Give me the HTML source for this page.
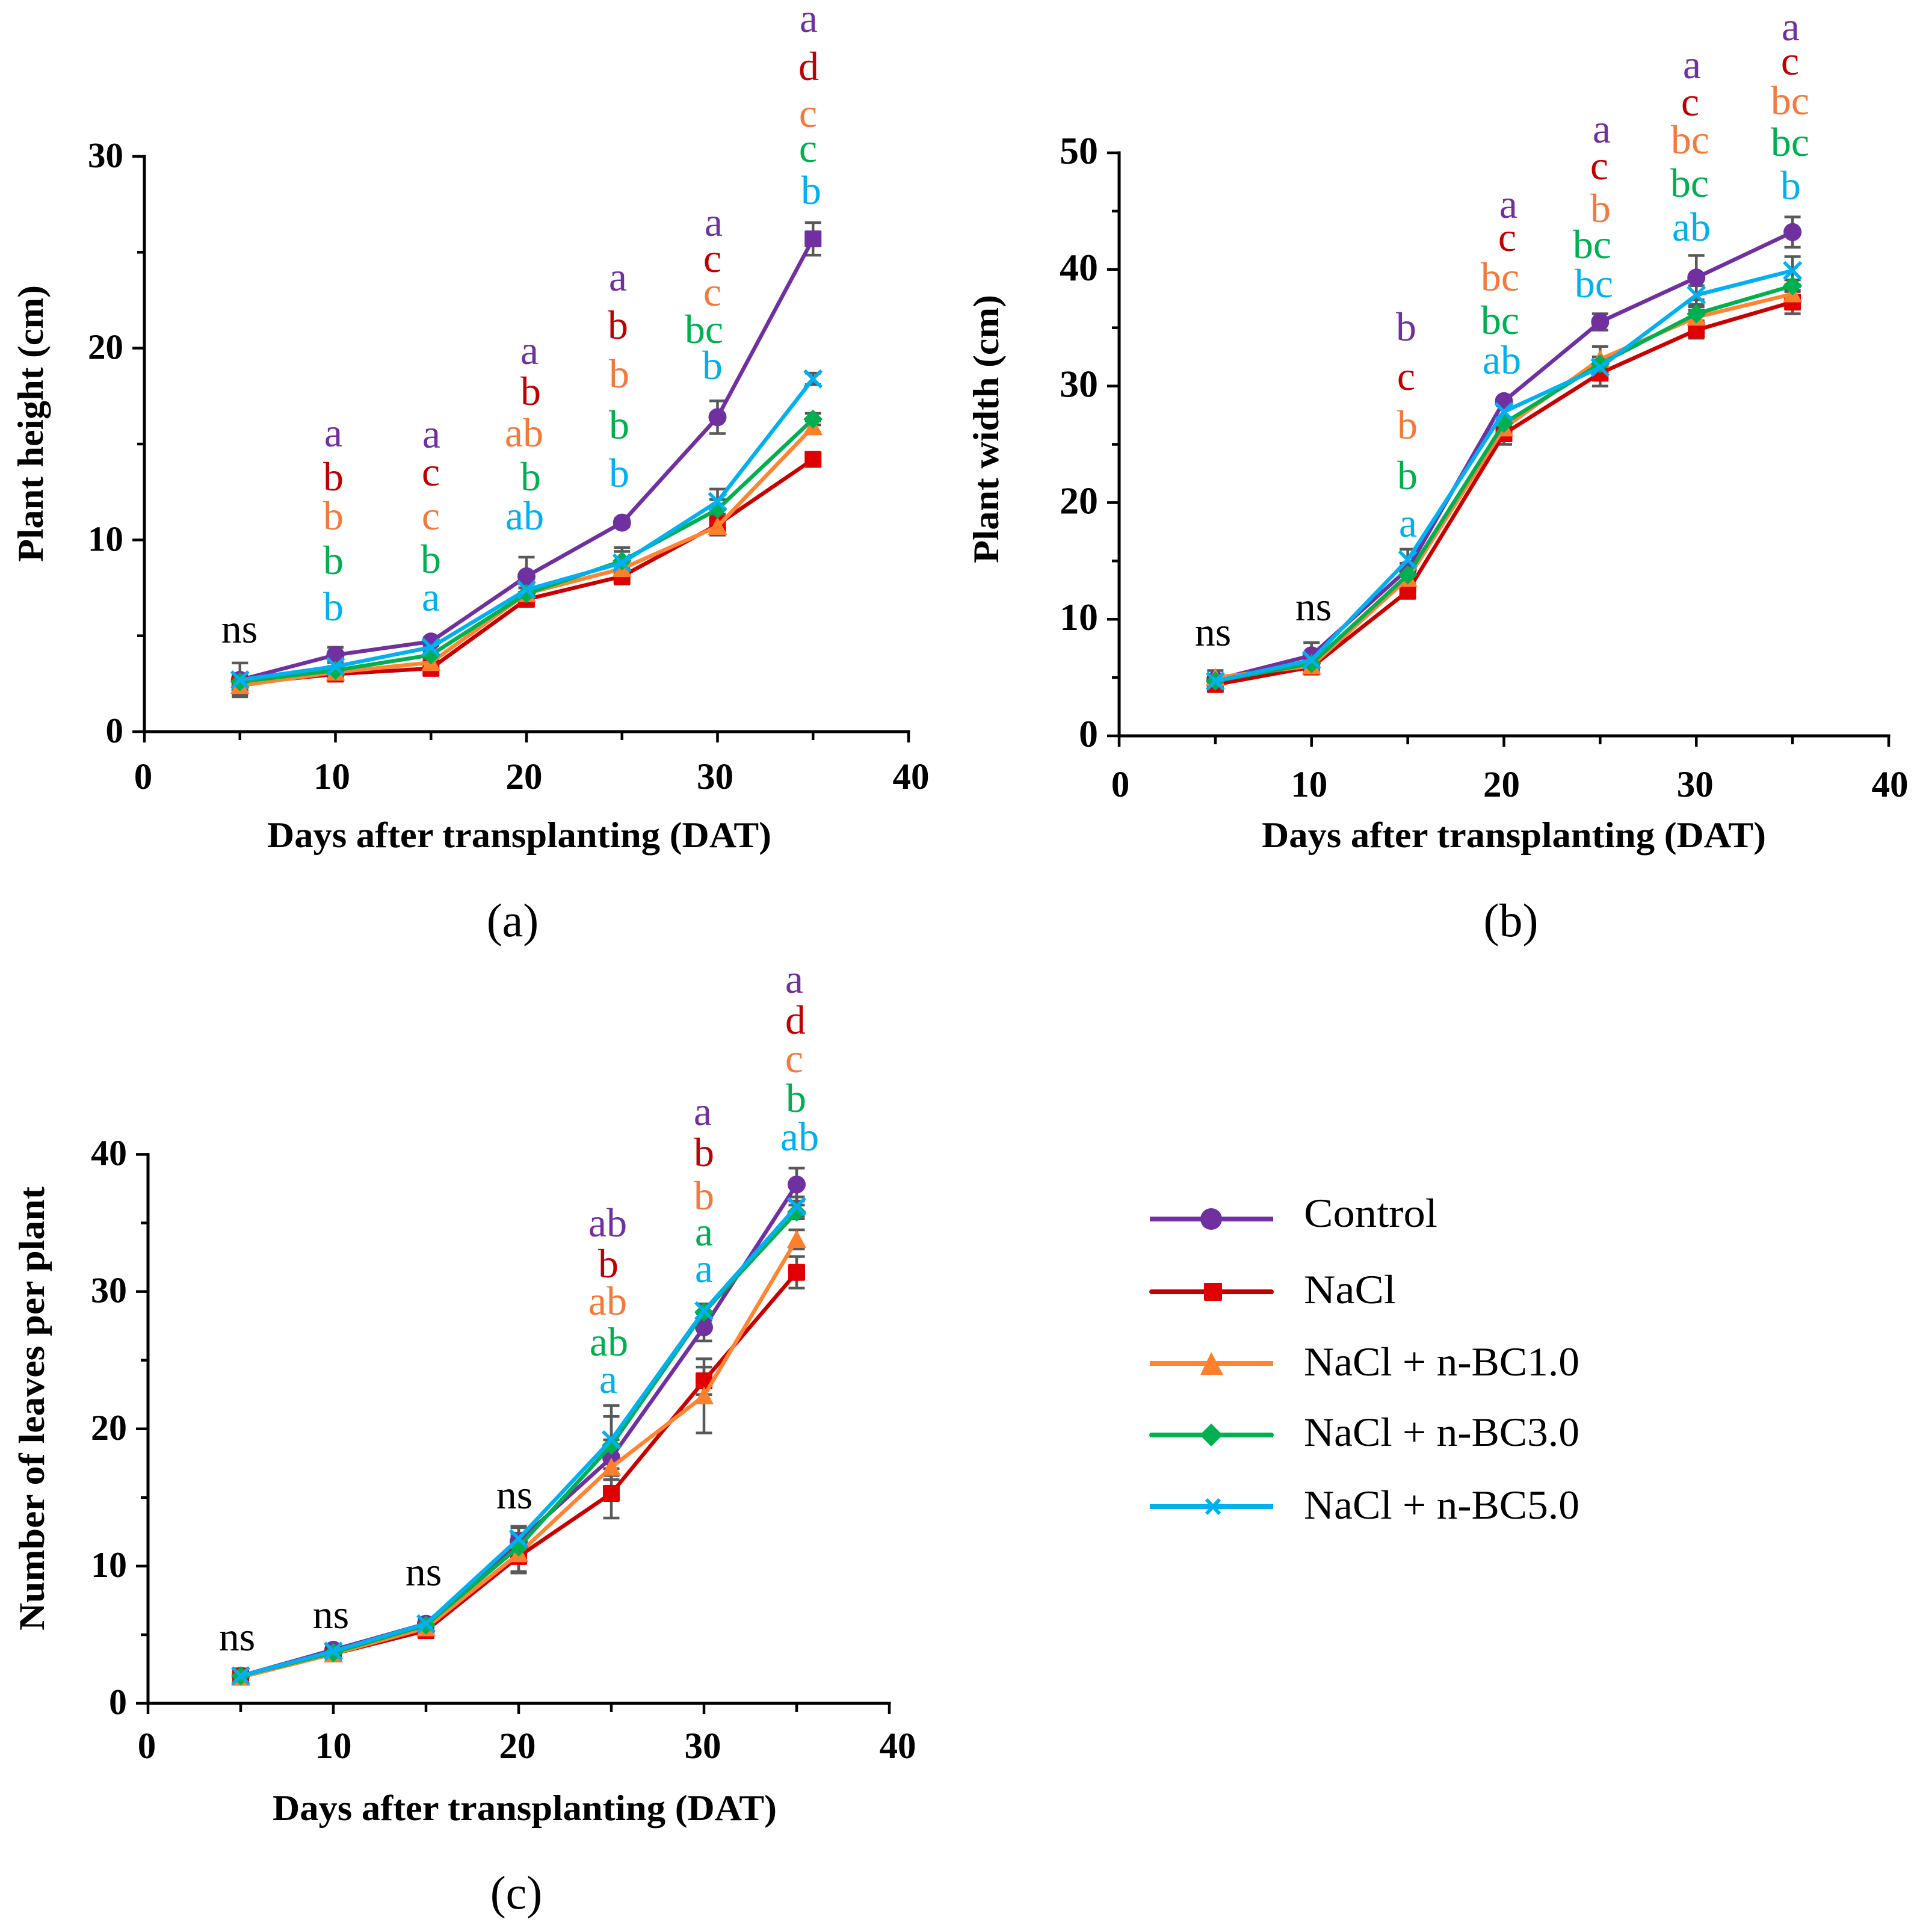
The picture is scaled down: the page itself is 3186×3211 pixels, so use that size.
<!DOCTYPE html>
<html lang="en">
<head>
<meta charset="utf-8">
<title>Plant growth charts</title>
<style>
html,body{margin:0;padding:0;background:#fff;}
svg{display:block;}
text{font-family:"Liberation Serif",serif;}
</style>
</head>
<body>
<svg id="figure" xmlns="http://www.w3.org/2000/svg" width="3186" height="3211" viewBox="0 0 3186 3211">
<rect width="3186" height="3211" fill="#ffffff"/>
<g id="charts"></g>
<g id="legend">
  <g>
    <line x1="1911" y1="2026" x2="2116" y2="2026" stroke="#7030A0" stroke-width="8"/>
    <circle cx="2013" cy="2026" r="18" fill="#7030A0"/>
    <text x="2167" y="2039" font-size="68" textLength="222" lengthAdjust="spacingAndGlyphs">Control</text>
  </g>
  <g>
    <line x1="1914" y1="2147" x2="2113" y2="2147" stroke="#C00000" stroke-width="8" stroke-linecap="round"/>
    <rect x="2001" y="2132" width="30" height="30" rx="2" fill="#E00000"/>
    <text x="2167" y="2166" font-size="68" textLength="153" lengthAdjust="spacingAndGlyphs">NaCl</text>
  </g>
  <g>
    <line x1="1911" y1="2266" x2="2116" y2="2266" stroke="#FF8533" stroke-width="8"/>
    <polygon points="2013,2247 2033,2285 1995,2285" fill="#FF7F2A"/>
    <text x="2167" y="2286" font-size="68" textLength="458" lengthAdjust="spacingAndGlyphs">NaCl + n-BC1.0</text>
  </g>
  <g>
    <line x1="1914" y1="2385" x2="2113" y2="2385" stroke="#00B050" stroke-width="8" stroke-linecap="round"/>
    <polygon points="2013,2366 2032,2385 2013,2404 1994,2385" fill="#00B050"/>
    <text x="2167" y="2403" font-size="68" textLength="458" lengthAdjust="spacingAndGlyphs">NaCl + n-BC3.0</text>
  </g>
  <g>
    <line x1="1911" y1="2504" x2="2116" y2="2504" stroke="#00B0F0" stroke-width="8"/>
    <path d="M2005,2492 L2027,2516 M2027,2492 L2005,2516" stroke="#00B0F0" stroke-width="6" fill="none"/>
    <text x="2167" y="2524" font-size="68" textLength="458" lengthAdjust="spacingAndGlyphs">NaCl + n-BC5.0</text>
  </g>
</g>
</svg>
<script>
// Shared categories
const days = [5, 10, 15, 20, 25, 30, 35];
const xTickLabels = [0, 10, 20, 30, 40];

// Panel (a): plant height (cm)
const heightTicks = [0, 10, 20, 30];
const heightControl = [2.7, 4.0, 4.7, 8.1, 10.9, 16.4, 25.7];
const heightNaCl = [2.5, 3.0, 3.3, 6.9, 8.1, 10.8, 14.2];
const heightBC1 = [2.4, 3.1, 3.6, 7.2, 8.5, 10.7, 15.9];
const heightBC3 = [2.6, 3.2, 4.0, 7.2, 8.9, 11.6, 16.3];
const heightBC5 = [2.7, 3.4, 4.4, 7.4, 8.8, 12.0, 18.4];
const heightControlErr = [0.88, 0.4, 0.2, 1.0, 0.2, 0.85, 0.85];
const heightNaClErr = [0.2, 0.2, 0.2, 0.35, 0.4, 0.5, 0.2];
const heightBC1Err = [0.5, 0.2, 0.2, 0.3, 0.3, 0.45, 0.3];
const heightBC3Err = [0.3, 0.2, 0.2, 0.3, 0.7, 0.5, 0.3];
const heightBC5Err = [0.3, 0.2, 0.2, 0.3, 0.6, 0.65, 0.3];

// Panel (b): plant width (cm)
const widthTicks = [0, 10, 20, 30, 40, 50];
const widthControl = [4.8, 6.9, 14.3, 28.7, 35.5, 39.3, 43.2];
const widthNaCl = [4.4, 5.9, 12.4, 25.9, 31.1, 34.8, 37.2];
const widthBC1 = [5.0, 6.0, 13.5, 26.4, 32.3, 35.9, 37.9];
const widthBC3 = [4.7, 6.2, 13.8, 26.8, 31.9, 36.2, 38.6];
const widthBC5 = [4.7, 6.5, 15.1, 27.8, 31.6, 37.8, 39.9];
const widthControlErr = [0.4, 1.1, 0.5, 0.3, 0.7, 1.9, 1.3];
const widthNaClErr = [0.3, 0.2, 0.4, 0.9, 1.1, 0.7, 1.0];
const widthBC1Err = [0.6, 0.3, 0.5, 0.6, 1.1, 0.6, 0.6];
const widthBC3Err = [0.3, 0.3, 0.5, 0.5, 0.6, 0.6, 0.5];
const widthBC5Err = [0.3, 0.5, 0.9, 0.5, 0.6, 0.8, 1.2];

// Panel (c): number of leaves per plant
const leavesTicks = [0, 10, 20, 30, 40];
const leavesControl = [2.0, 3.9, 5.8, 11.8, 17.9, 27.4, 37.8];
const leavesNaCl = [2.0, 3.6, 5.3, 10.7, 15.3, 23.5, 31.4];
const leavesBC1 = [1.9, 3.6, 5.5, 10.9, 17.2, 22.4, 33.8];
const leavesBC3 = [2.0, 3.7, 5.7, 11.4, 18.8, 28.5, 35.8];
const leavesBC5 = [2.0, 3.8, 5.8, 12.0, 19.2, 28.6, 36.2];
const leavesControlErr = [0.1, 0.2, 0.4, 1.0, 1.3, 1.0, 1.2];
const leavesNaClErr = [0.1, 0.1, 0.3, 1.2, 1.8, 1.0, 1.15];
const leavesBC1Err = [0.1, 0.2, 0.3, 1.3, 0.9, 2.7, 0.7];
const leavesBC3Err = [0.1, 0.2, 0.4, 1.0, 2.1, 0.6, 0.5];
const leavesBC5Err = [0.1, 0.2, 0.4, 0.9, 2.5, 0.5, 0.7];

const seriesNames = ['control', 'nacl', 'bc1', 'bc3', 'bc5'];
const lineColors = ['#7030A0', '#C80000', '#FF8533', '#00B050', '#00B0F0'];
const markerColors = ['#7030A0', '#E00000', '#FF7F2A', '#00B050', '#00B0F0'];
const markerKinds = ['circle', 'square', 'triangle', 'diamond', 'cross'];
const letterColors = ['#7030A0', '#C00000', '#F47A3C', '#00B050', '#00B0F0', '#000000'];

// Significance letters: text, colour index, horizontal and baseline placement
const heightLetters = [
  ['ns',5,398,1068],
  ['a',0,554,742],['b',1,554,815],['b',2,554,880],['b',3,554,954],['b',4,554,1031],
  ['a',0,717,744],['c',1,716,807],['c',2,716,880],['b',3,716,952],['a',4,716,1015],
  ['a',0,880,605],['b',1,882,673],['ab',2,871,742],['b',3,882,815],['ab',4,872,880],
  ['a',0,1027,483],['b',1,1027,563],['b',2,1029,644],['b',3,1029,729],['b',4,1029,809],
  ['a',0,1186,392],['c',1,1184,452],['c',2,1184,508],['bc',3,1170,570],['b',4,1184,630],
  ['a',0,1344,53],['d',1,1344,133],['c',2,1343,211],['c',3,1343,269],['b',4,1348,339]
];
const widthLetters = [
  ['ns',5,2016,1073],['ns',5,2183,1031],
  ['b',0,2337,566],['c',1,2337,648],['b',2,2339,729],['b',3,2339,813],['a',4,2340,892],
  ['a',0,2507,362],['c',1,2505,417],['bc',2,2493,483],['bc',3,2493,555],['ab',4,2496,621],
  ['a',0,2662,237],['c',1,2658,298],['b',2,2660,369],['bc',3,2646,429],['bc',4,2649,494],
  ['a',0,2812,130],['c',1,2809,192],['bc',2,2809,255],['bc',3,2808,327],['ab',4,2811,400],
  ['a',0,2976,67],['c',1,2975,124],['bc',2,2975,190],['bc',3,2975,259],['b',4,2976,331]
];
const leavesLetters = [
  ['ns',5,394,2743],['ns',5,550,2706],['ns',5,704,2635],['ns',5,855,2507],
  ['ab',0,1010,2055],['b',1,1011,2123],['ab',2,1010,2185],['ab',3,1012,2253],['a',4,1011,2315],
  ['a',0,1168,1870],['b',1,1170,1938],['b',2,1170,2010],['a',3,1170,2070],['a',4,1170,2131],
  ['a',0,1320,1650],['d',1,1322,1718],['c',2,1320,1782],['b',3,1323,1848],['ab',4,1329,1912]
];

const SVG_NS = 'http://www.w3.org/2000/svg';

function make(parent, tag, attrs, content) {
  const el = document.createElementNS(SVG_NS, tag);
  for (const k in attrs) el.setAttribute(k, attrs[k]);
  if (content !== undefined) el.textContent = content;
  parent.appendChild(el);
  return el;
}

function drawMarker(group, kind, cx, cy, color) {
  let m;
  if (kind === 'circle') {
    m = make(group, 'circle', { cx: cx, cy: cy, r: 15, fill: color });
  } else if (kind === 'square') {
    m = make(group, 'rect', { x: cx - 14, y: cy - 14, width: 28, height: 28, rx: 2, fill: color });
  } else if (kind === 'triangle') {
    m = make(group, 'polygon', { points: (cx) + ',' + (cy - 16) + ' ' + (cx + 16) + ',' + (cy + 14) + ' ' + (cx - 16) + ',' + (cy + 14), fill: color });
  } else if (kind === 'diamond') {
    m = make(group, 'polygon', { points: (cx) + ',' + (cy - 16) + ' ' + (cx + 16) + ',' + (cy) + ' ' + (cx) + ',' + (cy + 16) + ' ' + (cx - 16) + ',' + (cy), fill: color });
  } else {
    m = make(group, 'path', { d: 'M' + (cx - 14) + ',' + (cy - 14) + ' L' + (cx + 14) + ',' + (cy + 14) + ' M' + (cx + 14) + ',' + (cy - 14) + ' L' + (cx - 14) + ',' + (cy + 14), stroke: color, 'stroke-width': 5.5, fill: 'none' });
  }
  
  
}

function drawChart(cfg) {
  const root = document.getElementById('charts');
  const g = make(root, 'g', {});
  
  

  const xScale = function (v) { return cfg.x0 + (v / 40) * (cfg.x40 - cfg.x0); };
  const yScale = function (v) { return cfg.y0 - (v / cfg.yMax) * (cfg.y0 - cfg.yTop); };

  // Axes
  const yAxis = make(g, 'line', { x1: cfg.x0, y1: cfg.yTop - 2.5, x2: cfg.x0, y2: cfg.y0 + 2.5, stroke: '#000', 'stroke-width': 5 });
  
  
  const xAxis = make(g, 'line', { x1: cfg.x0 - 2.5, y1: cfg.y0, x2: cfg.x40 + 2.5, y2: cfg.y0, stroke: '#000', 'stroke-width': 5 });
  
  

  // Y ticks
  cfg.yTicks.forEach(function (v, i) {
    const t = make(g, 'line', { x1: cfg.x0 - 20, y1: yScale(v), x2: cfg.x0, y2: yScale(v), stroke: '#000', 'stroke-width': 4.5 });
    
    
    const lab = make(g, 'text', { x: cfg.x0 - 35, y: yScale(v) + 18, 'text-anchor': 'end', 'font-size': cfg.yFont, 'font-weight': 'bold', fill: '#000' }, String(v));
    
    
    if (i < cfg.yTicks.length - 1) {
      const mv = (v + cfg.yTicks[i + 1]) / 2;
      const mt = make(g, 'line', { x1: cfg.x0 - 12, y1: yScale(mv), x2: cfg.x0, y2: yScale(mv), stroke: '#000', 'stroke-width': 4.5 });
      
      
    }
  });

  // X ticks
  xTickLabels.forEach(function (v, i) {
    const t = make(g, 'line', { x1: xScale(v), y1: cfg.y0, x2: xScale(v), y2: cfg.y0 + 18, stroke: '#000', 'stroke-width': 4.5 });
    
    
    const lab = make(g, 'text', { x: xScale(v) + cfg.xLabelNudge[i], y: cfg.y0 + cfg.xLabelDy, 'text-anchor': 'middle', 'font-size': 61, 'font-weight': 'bold', fill: '#000' }, String(v));
    
    
  });
  days.forEach(function (d) {
    if (d % 10 !== 0) {
      const mt = make(g, 'line', { x1: xScale(d), y1: cfg.y0, x2: xScale(d), y2: cfg.y0 + 14, stroke: '#000', 'stroke-width': 4.5 });
      
      
    }
  });

  // Axis titles
  const xt = make(g, 'text', { x: cfg.xTitle[0], y: cfg.xTitle[1], 'text-anchor': 'middle', 'font-size': 60, 'font-weight': 'bold', textLength: cfg.xTitle[2], lengthAdjust: 'spacingAndGlyphs' }, 'Days after transplanting (DAT)');
  
  
  const yt = make(g, 'text', { x: 0, y: 0, transform: 'translate(' + cfg.yTitle[0] + ',' + cfg.yTitle[1] + ') rotate(-90)', 'text-anchor': 'middle', 'font-size': 60, 'font-weight': 'bold', textLength: cfg.yTitle[2], lengthAdjust: 'spacingAndGlyphs' }, cfg.yLabel);
  
  

  // Panel label
  const pl = make(g, 'text', { x: cfg.panel[0], y: cfg.panel[1], 'text-anchor': 'middle', 'font-size': 78 }, cfg.panelText);
  
  

  // Error bars (beneath the series)
  cfg.values.forEach(function (vals, s) {
    vals.forEach(function (v, j) {
      const e = cfg.errors[s][j];
      const px = xScale(days[j]);
      const top = yScale(v + e);
      const bot = yScale(v - e);
      const eg = make(g, 'path', { d: 'M' + px + ',' + top + ' V' + bot + ' M' + (px - 13.5) + ',' + top + ' H' + (px + 13.5) + ' M' + (px - 13.5) + ',' + bot + ' H' + (px + 13.5), stroke: '#595959', 'stroke-width': 4.5, fill: 'none' });
      
      
    });
  });

  // Series
  cfg.values.forEach(function (vals, s) {
    const sg = make(g, 'g', {});
    
    
    const pts = vals.map(function (v, j) { return xScale(days[j]) + ',' + yScale(v); }).join(' ');
    const line = make(sg, 'polyline', { points: pts, fill: 'none', stroke: lineColors[s], 'stroke-width': 6.5, 'stroke-linejoin': 'round' });
    
    
    vals.forEach(function (v, j) {
      let kind = markerKinds[s];
      if (cfg.squareLast && s === 0 && j === vals.length - 1) kind = 'square';
      drawMarker(sg, kind, xScale(days[j]), yScale(v), markerColors[s]);
    });
  });

  // Significance letters
  cfg.letters.forEach(function (item) {
    const tx = make(g, 'text', { x: item[2], y: item[3], 'text-anchor': 'middle', 'font-size': 68, fill: letterColors[item[1]] }, item[0]);
    
    
  });
}

drawChart({
  name: 'plant-height', x0: 240, x40: 1510, y0: 1216, yTop: 260, yMax: 30,
  yTicks: heightTicks, yLabel: 'Plant height (cm)', panelText: '(a)', yFont: 59,
  xLabelNudge: [-2, -6, -4, -4, 4], xLabelDy: 95, xTitle: [863, 1408, 838], yTitle: [71, 704, 460], panel: [852, 1556],
  squareLast: true, letters: heightLetters,
  values: [heightControl, heightNaCl, heightBC1, heightBC3, heightBC5],
  errors: [heightControlErr, heightNaClErr, heightBC1Err, heightBC3Err, heightBC5Err]
});
drawChart({
  name: 'plant-width', x0: 1860, x40: 3139, y0: 1223, yTop: 254, yMax: 50,
  yTicks: widthTicks, yLabel: 'Plant width (cm)', panelText: '(b)', yFont: 64,
  xLabelNudge: [2, -4, -4, -2, 2], xLabelDy: 101, xTitle: [2516, 1408, 838], yTitle: [1659, 713, 446], panel: [2511, 1556],
  squareLast: false, letters: widthLetters,
  values: [widthControl, widthNaCl, widthBC1, widthBC3, widthBC5],
  errors: [widthControlErr, widthNaClErr, widthBC1Err, widthBC3Err, widthBC5Err]
});
drawChart({
  name: 'leaves-per-plant', x0: 246, x40: 1478, y0: 2831, yTop: 1918.5, yMax: 40,
  yTicks: leavesTicks, yLabel: 'Number of leaves per plant', panelText: '(c)', yFont: 60,
  xLabelNudge: [-2, 0, -2, -2, 14], xLabelDy: 91, xTitle: [872, 3025, 838], yTitle: [73, 2341, 738], panel: [858, 3172],
  squareLast: false, letters: leavesLetters,
  values: [leavesControl, leavesNaCl, leavesBC1, leavesBC3, leavesBC5],
  errors: [leavesControlErr, leavesNaClErr, leavesBC1Err, leavesBC3Err, leavesBC5Err]
});
</script>
</body>
</html>
